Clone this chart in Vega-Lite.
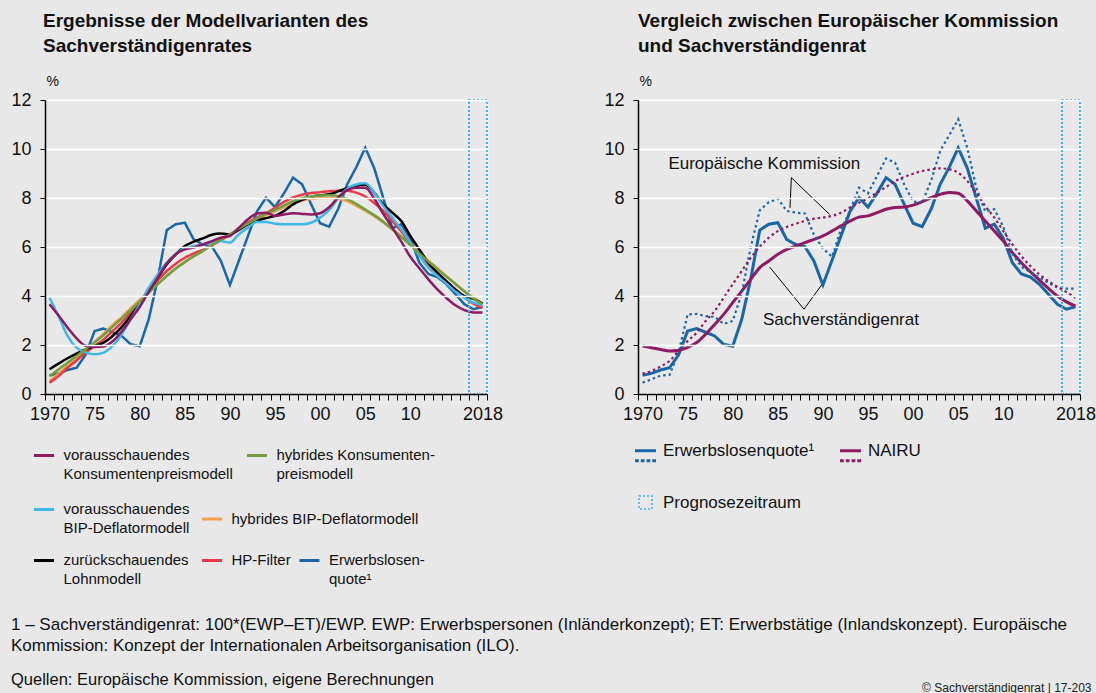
{
  "$schema": "https://vega.github.io/schema/vega-lite/v6.json",
  "background": "#e8e8e8",
  "padding": {"left": 10, "top": 12, "right": 2, "bottom": 1},
  "datasets": {
    "d": [
      {"year":1970,"vKP":3.66,"hKP":0.73,"vBIP":3.93,"hBIP":0.53,"Lohn":1.01,"HP":0.46,"Erw":0.76,"ErwEK":0.46,"NairuSVR":1.96,"NairuEK":0.83},
      {"year":1971,"vKP":3.2,"hKP":1.0,"vBIP":3.18,"hBIP":0.83,"Lohn":1.24,"HP":0.73,"Erw":0.84,"ErwEK":0.6,"NairuSVR":1.89,"NairuEK":0.94},
      {"year":1972,"vKP":2.71,"hKP":1.28,"vBIP":2.37,"hBIP":1.14,"Lohn":1.46,"HP":1.07,"Erw":0.98,"ErwEK":0.75,"NairuSVR":1.82,"NairuEK":1.12},
      {"year":1973,"vKP":2.27,"hKP":1.55,"vBIP":1.89,"hBIP":1.46,"Lohn":1.65,"HP":1.37,"Erw":1.07,"ErwEK":0.78,"NairuSVR":1.76,"NairuEK":1.35},
      {"year":1974,"vKP":1.97,"hKP":1.82,"vBIP":1.69,"hBIP":1.78,"Lohn":1.82,"HP":1.69,"Erw":1.6,"ErwEK":1.7,"NairuSVR":1.78,"NairuEK":1.76},
      {"year":1975,"vKP":1.92,"hKP":2.11,"vBIP":1.62,"hBIP":2.12,"Lohn":1.96,"HP":1.96,"Erw":2.57,"ErwEK":3.25,"NairuSVR":1.9,"NairuEK":2.16},
      {"year":1976,"vKP":1.94,"hKP":2.41,"vBIP":1.69,"hBIP":2.46,"Lohn":2.1,"HP":2.23,"Erw":2.67,"ErwEK":3.27,"NairuSVR":2.1,"NairuEK":2.5},
      {"year":1977,"vKP":2.15,"hKP":2.75,"vBIP":1.96,"hBIP":2.82,"Lohn":2.37,"HP":2.57,"Erw":2.52,"ErwEK":3.18,"NairuSVR":2.44,"NairuEK":2.98},
      {"year":1978,"vKP":2.55,"hKP":3.08,"vBIP":2.44,"hBIP":3.14,"Lohn":2.73,"HP":2.91,"Erw":2.37,"ErwEK":3.15,"NairuSVR":2.84,"NairuEK":3.39},
      {"year":1979,"vKP":3.05,"hKP":3.42,"vBIP":3.05,"hBIP":3.5,"Lohn":3.18,"HP":3.32,"Erw":2.03,"ErwEK":2.86,"NairuSVR":3.25,"NairuEK":3.93},
      {"year":1980,"vKP":3.55,"hKP":3.78,"vBIP":3.66,"hBIP":3.84,"Lohn":3.66,"HP":3.73,"Erw":1.95,"ErwEK":2.98,"NairuSVR":3.73,"NairuEK":4.48},
      {"year":1981,"vKP":4.17,"hKP":4.13,"vBIP":4.34,"hBIP":4.18,"Lohn":4.2,"HP":4.2,"Erw":3.05,"ErwEK":4.1,"NairuSVR":4.2,"NairuEK":5.02},
      {"year":1982,"vKP":4.75,"hKP":4.48,"vBIP":4.88,"hBIP":4.5,"Lohn":4.75,"HP":4.64,"Erw":4.7,"ErwEK":6.0,"NairuSVR":4.68,"NairuEK":5.56},
      {"year":1983,"vKP":5.33,"hKP":4.81,"vBIP":5.36,"hBIP":4.82,"Lohn":5.29,"HP":5.02,"Erw":6.69,"ErwEK":7.5,"NairuSVR":5.16,"NairuEK":6.01},
      {"year":1984,"vKP":5.7,"hKP":5.12,"vBIP":5.7,"hBIP":5.13,"Lohn":5.7,"HP":5.32,"Erw":6.93,"ErwEK":7.83,"NairuSVR":5.43,"NairuEK":6.38},
      {"year":1985,"vKP":5.9,"hKP":5.38,"vBIP":5.95,"hBIP":5.4,"Lohn":6.04,"HP":5.56,"Erw":6.99,"ErwEK":7.97,"NairuSVR":5.7,"NairuEK":6.65},
      {"year":1986,"vKP":5.98,"hKP":5.62,"vBIP":6.04,"hBIP":5.63,"Lohn":6.22,"HP":5.74,"Erw":6.3,"ErwEK":7.47,"NairuSVR":5.9,"NairuEK":6.82},
      {"year":1987,"vKP":6.1,"hKP":5.84,"vBIP":6.11,"hBIP":5.84,"Lohn":6.35,"HP":5.88,"Erw":6.1,"ErwEK":7.4,"NairuSVR":6.04,"NairuEK":6.95},
      {"year":1988,"vKP":6.24,"hKP":6.08,"vBIP":6.18,"hBIP":6.08,"Lohn":6.5,"HP":6.08,"Erw":6.02,"ErwEK":7.37,"NairuSVR":6.18,"NairuEK":7.06},
      {"year":1989,"vKP":6.38,"hKP":6.3,"vBIP":6.24,"hBIP":6.3,"Lohn":6.55,"HP":6.28,"Erw":5.43,"ErwEK":6.5,"NairuSVR":6.31,"NairuEK":7.16},
      {"year":1990,"vKP":6.45,"hKP":6.52,"vBIP":6.18,"hBIP":6.52,"Lohn":6.52,"HP":6.5,"Erw":4.45,"ErwEK":5.95,"NairuSVR":6.45,"NairuEK":7.2},
      {"year":1991,"vKP":6.79,"hKP":6.75,"vBIP":6.52,"hBIP":6.72,"Lohn":6.7,"HP":6.75,"Erw":5.45,"ErwEK":5.6,"NairuSVR":6.65,"NairuEK":7.27},
      {"year":1992,"vKP":7.13,"hKP":6.95,"vBIP":6.79,"hBIP":6.92,"Lohn":6.92,"HP":7.0,"Erw":6.45,"ErwEK":6.72,"NairuSVR":6.86,"NairuEK":7.4},
      {"year":1993,"vKP":7.37,"hKP":7.16,"vBIP":7.02,"hBIP":7.12,"Lohn":7.08,"HP":7.2,"Erw":7.45,"ErwEK":7.47,"NairuSVR":7.06,"NairuEK":7.61},
      {"year":1994,"vKP":7.4,"hKP":7.35,"vBIP":7.02,"hBIP":7.3,"Lohn":7.18,"HP":7.38,"Erw":8.01,"ErwEK":8.42,"NairuSVR":7.22,"NairuEK":7.81},
      {"year":1995,"vKP":7.27,"hKP":7.52,"vBIP":6.95,"hBIP":7.46,"Lohn":7.27,"HP":7.6,"Erw":7.63,"ErwEK":8.19,"NairuSVR":7.27,"NairuEK":7.99},
      {"year":1996,"vKP":7.33,"hKP":7.7,"vBIP":6.93,"hBIP":7.62,"Lohn":7.47,"HP":7.84,"Erw":8.2,"ErwEK":8.9,"NairuSVR":7.4,"NairuEK":8.22},
      {"year":1997,"vKP":7.38,"hKP":7.87,"vBIP":6.93,"hBIP":7.77,"Lohn":7.74,"HP":8.02,"Erw":8.83,"ErwEK":9.61,"NairuSVR":7.54,"NairuEK":8.45},
      {"year":1998,"vKP":7.35,"hKP":7.99,"vBIP":6.93,"hBIP":7.9,"Lohn":7.92,"HP":8.13,"Erw":8.56,"ErwEK":9.44,"NairuSVR":7.61,"NairuEK":8.69},
      {"year":1999,"vKP":7.33,"hKP":8.06,"vBIP":6.99,"hBIP":7.96,"Lohn":8.04,"HP":8.2,"Erw":7.75,"ErwEK":8.56,"NairuSVR":7.63,"NairuEK":8.86},
      {"year":2000,"vKP":7.38,"hKP":8.1,"vBIP":7.2,"hBIP":8.0,"Lohn":8.11,"HP":8.24,"Erw":6.97,"ErwEK":7.86,"NairuSVR":7.71,"NairuEK":8.99},
      {"year":2001,"vKP":7.62,"hKP":8.11,"vBIP":7.5,"hBIP":8.0,"Lohn":8.15,"HP":8.28,"Erw":6.83,"ErwEK":7.8,"NairuSVR":7.85,"NairuEK":9.1},
      {"year":2002,"vKP":8.02,"hKP":8.08,"vBIP":8.0,"hBIP":7.97,"Lohn":8.27,"HP":8.3,"Erw":7.55,"ErwEK":8.72,"NairuSVR":8.01,"NairuEK":9.17},
      {"year":2003,"vKP":8.32,"hKP":7.95,"vBIP":8.38,"hBIP":7.87,"Lohn":8.4,"HP":8.3,"Erw":8.56,"ErwEK":9.92,"NairuSVR":8.15,"NairuEK":9.21},
      {"year":2004,"vKP":8.42,"hKP":7.76,"vBIP":8.55,"hBIP":7.69,"Lohn":8.5,"HP":8.22,"Erw":9.25,"ErwEK":10.56,"NairuSVR":8.22,"NairuEK":9.17},
      {"year":2005,"vKP":8.42,"hKP":7.53,"vBIP":8.6,"hBIP":7.48,"Lohn":8.54,"HP":8.06,"Erw":10.05,"ErwEK":11.21,"NairuSVR":8.19,"NairuEK":9.03},
      {"year":2006,"vKP":7.98,"hKP":7.3,"vBIP":8.22,"hBIP":7.26,"Lohn":8.22,"HP":7.8,"Erw":9.22,"ErwEK":10.05,"NairuSVR":7.88,"NairuEK":8.69},
      {"year":2007,"vKP":7.35,"hKP":7.03,"vBIP":7.67,"hBIP":7.0,"Lohn":7.74,"HP":7.47,"Erw":8.0,"ErwEK":8.42,"NairuSVR":7.47,"NairuEK":8.22},
      {"year":2008,"vKP":6.79,"hKP":6.72,"vBIP":7.2,"hBIP":6.72,"Lohn":7.4,"HP":7.06,"Erw":6.77,"ErwEK":7.45,"NairuSVR":7.06,"NairuEK":7.67},
      {"year":2009,"vKP":6.22,"hKP":6.41,"vBIP":6.72,"hBIP":6.45,"Lohn":7.06,"HP":6.63,"Erw":6.93,"ErwEK":7.54,"NairuSVR":6.65,"NairuEK":7.2},
      {"year":2010,"vKP":5.6,"hKP":6.08,"vBIP":6.18,"hBIP":6.11,"Lohn":6.45,"HP":6.18,"Erw":6.35,"ErwEK":6.82,"NairuSVR":6.24,"NairuEK":6.65},
      {"year":2011,"vKP":5.13,"hKP":5.74,"vBIP":5.63,"hBIP":5.77,"Lohn":5.9,"HP":5.73,"Erw":5.36,"ErwEK":5.73,"NairuSVR":5.77,"NairuEK":6.11},
      {"year":2012,"vKP":4.68,"hKP":5.41,"vBIP":5.16,"hBIP":5.44,"Lohn":5.36,"HP":5.29,"Erw":4.9,"ErwEK":5.19,"NairuSVR":5.36,"NairuEK":5.63},
      {"year":2013,"vKP":4.27,"hKP":5.1,"vBIP":4.82,"hBIP":5.13,"Lohn":4.95,"HP":4.88,"Erw":4.77,"ErwEK":4.98,"NairuSVR":4.99,"NairuEK":5.22},
      {"year":2014,"vKP":3.92,"hKP":4.79,"vBIP":4.5,"hBIP":4.82,"Lohn":4.61,"HP":4.54,"Erw":4.48,"ErwEK":4.76,"NairuSVR":4.65,"NairuEK":4.88},
      {"year":2015,"vKP":3.62,"hKP":4.49,"vBIP":4.18,"hBIP":4.5,"Lohn":4.27,"HP":4.2,"Erw":4.07,"ErwEK":4.54,"NairuSVR":4.31,"NairuEK":4.61},
      {"year":2016,"vKP":3.42,"hKP":4.18,"vBIP":3.93,"hBIP":4.2,"Lohn":4.0,"HP":3.93,"Erw":3.66,"ErwEK":4.34,"NairuSVR":4.0,"NairuEK":4.37},
      {"year":2017,"vKP":3.33,"hKP":3.9,"vBIP":3.73,"hBIP":3.93,"Lohn":3.88,"HP":3.69,"Erw":3.46,"ErwEK":4.3,"NairuSVR":3.76,"NairuEK":4.16},
      {"year":2018,"vKP":3.33,"hKP":3.67,"vBIP":3.63,"hBIP":3.7,"Lohn":3.69,"HP":3.52,"Erw":3.56,"ErwEK":4.3,"NairuSVR":3.59,"NairuEK":3.93}
    ],
    "fc": [{"start": 2016.5, "end": 2018.5}],
    "annoLines": [
      {"x1": 1986.5, "y1": 8.83, "x2": 1986.35, "y2": 7.6},
      {"x1": 1986.5, "y1": 8.83, "x2": 1990.74, "y2": 7.33},
      {"x1": 1987.9, "y1": 3.46, "x2": 1984.1, "y2": 5.18},
      {"x1": 1987.9, "y1": 3.46, "x2": 1989.85, "y2": 4.45}
    ],
    "annoText": [
      {"year": 1983.5, "value": 9.37, "label": "Europäische Kommission"},
      {"year": 1992.0, "value": 3.02, "label": "Sachverständigenrat"}
    ]
  },
  "title": {
    "text": "© Sachverständigenrat | 17-203",
    "orient": "bottom", "anchor": "end", "frame": "bounds",
    "fontSize": 12, "fontWeight": "normal", "color": "#222", "offset": -6, "dx": -4
  },
  "vconcat": [
    {
      "title": {
        "text": ["1 – Sachverständigenrat: 100*(EWP–ET)/EWP. EWP: Erwerbspersonen (Inländerkonzept); ET: Erwerbstätige (Inlandskonzept). Europäische", "Kommission: Konzept der Internationalen Arbeitsorganisation (ILO)."],
        "subtitle": "Quellen: Europäische Kommission, eigene Berechnungen",
        "orient": "bottom", "anchor": "start", "frame": "bounds",
        "fontSize": 17, "fontWeight": "normal", "lineHeight": 21, "color": "#111",
        "subtitleFontSize": 16.5, "subtitleColor": "#111", "subtitlePadding": 17,
        "offset": 30
      },
      "spacing": 100,
      "resolve": {"scale": {"color": "independent", "stroke": "independent", "strokeDash": "independent"}},
      "hconcat": [
        {
          "width": 442, "height": 294,
          "title": {"text": ["Ergebnisse der Modellvarianten des", "Sachverständigenrates"], "anchor": "start", "frame": "group", "fontSize": 19, "fontWeight": "bold", "lineHeight": 25, "offset": 18, "dx": -2},
          "resolve": {"axis": {"x": "independent", "y": "independent"}},
          "layer": [
            {
              "data": {"name": "d"},
              "transform": [{"fold": ["Erw"], "as": ["series", "value"]}],
              "mark": {"type": "line", "strokeWidth": 2.5, "color": "#1a67a7"},
              "encoding": {
                "x": {"field": "year", "type": "quantitative", "scale": {"domain": [1969.5, 2018.5], "nice": false, "zero": false},
                  "axis": {"values": [1969.5,1970.5,1971.5,1972.5,1973.5,1974.5,1975.5,1976.5,1977.5,1978.5,1979.5,1980.5,1981.5,1982.5,1983.5,1984.5,1985.5,1986.5,1987.5,1988.5,1989.5,1990.5,1991.5,1992.5,1993.5,1994.5,1995.5,1996.5,1997.5,1998.5,1999.5,2000.5,2001.5,2002.5,2003.5,2004.5,2005.5,2006.5,2007.5,2008.5,2009.5,2010.5,2011.5,2012.5,2013.5,2014.5,2015.5,2016.5,2017.5,2018.5], "labels": false, "tickSize": 6, "grid": false, "title": null, "zindex": 1}},
                "y": {"field": "value", "type": "quantitative", "scale": {"domain": [0, 12], "nice": false, "zero": true},
                  "axis": {"values": [0,2,4,6,8,10,12], "grid": true, "tickSize": 5, "labelPadding": 9, "title": "%", "titleAngle": 0, "titleAlign": "left", "titleBaseline": "alphabetic", "titleX": 1, "titleY": -15, "titleFontSize": 14, "titleFontWeight": "normal", "zindex": 1}},
                "strokeDash": {"field": "series", "type": "nominal", "scale": {"domain": ["Erw"], "range": [[1, 0]]},
                  "legend": {"orient": "none", "legendX": 253, "legendY": 449, "title": null, "symbolType": "stroke", "symbolSize": 400, "symbolStrokeWidth": 3, "symbolStrokeColor": "#1a67a7", "labelFontSize": 15, "labelLimit": 400, "labelOffset": 8, "padding": 0, "labelBaseline": "line-top",
                    "labelExpr": "['Erwerbslosen-', 'quote¹']",
                    "encode": {"labels": {"update": {"dy": {"value": -9.5}, "lineHeight": {"value": 19}}}, "symbols": {"update": {"stroke": {"value": "#1a67a7"}}}}}}
              }
            },
            {
              "data": {"name": "d"},
              "transform": [{"fold": ["hBIP", "HP", "Lohn", "vBIP"], "as": ["series", "value"]}],
              "mark": {"type": "line", "strokeWidth": 2.5, "interpolate": "monotone"},
              "encoding": {
                "x": {"field": "year", "type": "quantitative", "axis": null},
                "y": {"field": "value", "type": "quantitative", "axis": null},
                "stroke": {"field": "series", "type": "nominal",
                  "scale": {"domain": ["vBIP", "hBIP", "Lohn", "HP"], "range": ["#3fb8e8", "#f59e48", "#000000", "#e8394a"]},
                  "legend": {"orient": "none", "direction": "horizontal", "legendX": -12.5, "legendY": 398, "columns": 2, "title": null, "symbolType": "stroke", "symbolSize": 400, "symbolStrokeWidth": 3, "labelFontSize": 15, "labelLimit": 400, "labelOffset": 8, "columnPadding": 6, "rowPadding": 13, "padding": 0, "labelBaseline": "line-top",
                    "labelExpr": "{'vBIP': ['vorausschauendes', 'BIP-Deflatormodell'], 'hBIP': ['hybrides BIP-Deflatormodell'], 'Lohn': ['zurückschauendes', 'Lohnmodell'], 'HP': ['HP-Filter']}[datum.label]",
                    "encode": {"labels": {"update": {"dy": {"value": -9.5}, "lineHeight": {"value": 19}}}}}}
              }
            },
            {
              "data": {"name": "d"},
              "transform": [{"fold": ["hKP", "vKP"], "as": ["series", "value"]}],
              "mark": {"type": "line", "strokeWidth": 2.5, "interpolate": "monotone"},
              "encoding": {
                "x": {"field": "year", "type": "quantitative", "axis": null},
                "y": {"field": "value", "type": "quantitative", "axis": null},
                "color": {"field": "series", "type": "nominal",
                  "scale": {"domain": ["vKP", "hKP"], "range": ["#8e1a63", "#6fa03f"]},
                  "legend": {"orient": "none", "direction": "horizontal", "legendX": -12.5, "legendY": 344, "columns": 2, "title": null, "symbolType": "stroke", "symbolSize": 400, "symbolStrokeWidth": 3, "labelFontSize": 15, "labelLimit": 400, "labelOffset": 8, "columnPadding": 7, "rowPadding": 13, "padding": 0, "labelBaseline": "line-top",
                    "labelExpr": "{'vKP': ['vorausschauendes', 'Konsumentenpreismodell'], 'hKP': ['hybrides Konsumenten-', 'preismodell']}[datum.label]",
                    "encode": {"labels": {"update": {"dy": {"value": -9.5}, "lineHeight": {"value": 19}}}}}}
              }
            },
            {
              "data": {"name": "fc"},
              "mark": {"type": "rect", "filled": false, "stroke": "#3db4e5", "strokeWidth": 2, "strokeDash": [2, 2]},
              "encoding": {
                "x": {"field": "start", "type": "quantitative",
                  "axis": {"orient": "bottom", "values": [1970,1975,1980,1985,1990,1995,2000,2005,2010,2018], "ticks": false, "domain": false, "grid": false, "title": null, "labelPadding": 11, "format": "d",
                    "labelExpr": "datum.value == 1970 || datum.value == 2018 ? '' + datum.value : substring('' + datum.value, 2, 4)"}},
                "x2": {"field": "end"},
                "y": {"datum": 12, "type": "quantitative", "axis": {"orient": "right", "domainColor": "#ffffff", "ticks": false, "labels": false, "grid": false, "title": null}},
                "y2": {"datum": 0}
              }
            }
          ]
        },
        {
          "width": 442, "height": 294,
          "title": {"text": ["Vergleich zwischen Europäischer Kommission", "und Sachverständigenrat"], "anchor": "start", "frame": "group", "fontSize": 19, "fontWeight": "bold", "lineHeight": 25, "offset": 18, "dx": 0},
          "resolve": {"axis": {"x": "independent", "y": "independent"}},
          "layer": [
            {
              "data": {"name": "d"},
              "mark": {"type": "line", "strokeWidth": 3},
              "encoding": {
                "x": {"field": "year", "type": "quantitative", "scale": {"domain": [1969.5, 2018.5], "nice": false, "zero": false},
                  "axis": {"values": [1969.5,1970.5,1971.5,1972.5,1973.5,1974.5,1975.5,1976.5,1977.5,1978.5,1979.5,1980.5,1981.5,1982.5,1983.5,1984.5,1985.5,1986.5,1987.5,1988.5,1989.5,1990.5,1991.5,1992.5,1993.5,1994.5,1995.5,1996.5,1997.5,1998.5,1999.5,2000.5,2001.5,2002.5,2003.5,2004.5,2005.5,2006.5,2007.5,2008.5,2009.5,2010.5,2011.5,2012.5,2013.5,2014.5,2015.5,2016.5,2017.5,2018.5], "labels": false, "tickSize": 6, "grid": false, "title": null, "zindex": 1}},
                "y": {"field": "Erw", "type": "quantitative", "scale": {"domain": [0, 12], "nice": false, "zero": true},
                  "axis": {"values": [0,2,4,6,8,10,12], "grid": true, "tickSize": 5, "labelPadding": 9, "title": "%", "titleAngle": 0, "titleAlign": "left", "titleBaseline": "alphabetic", "titleX": 1, "titleY": -15, "titleFontSize": 14, "titleFontWeight": "normal", "zindex": 1}},
                "color": {"datum": "Erwerbslosenquote¹",
                  "scale": {"domain": ["Erwerbslosenquote¹", "NAIRU", "Prognosezeitraum"], "range": ["#1a67a7", "#8e1a63", "#3db4e5"]},
                  "legend": {"orient": "none", "direction": "horizontal", "legendX": -1, "legendY": 342, "columns": 2, "title": null, "symbolSize": 441, "labelFontSize": 17, "labelLimit": 400, "labelOffset": 9, "columnPadding": 19, "rowPadding": 25, "padding": 0,
                    "encode": {"symbols": {"update": {
                      "shape": {"signal": "datum.value == 'Prognosezeitraum' ? 'M-0.62,-0.62H0.62V0.62H-0.62Z' : 'M-1,0H1M-1,0.95H-0.64M-0.45,0.95H-0.09M0.1,0.95H0.46M0.64,0.95H1'"},
                      "strokeWidth": {"signal": "datum.value == 'Prognosezeitraum' ? 1.5 : 3"},
                      "strokeDash": {"signal": "datum.value == 'Prognosezeitraum' ? [2, 2] : [1, 0]"},
                      "fill": {"value": "transparent"}
                    }}}}}
              }
            },
            {
              "data": {"name": "d"},
              "mark": {"type": "line", "strokeWidth": 3, "interpolate": "monotone"},
              "encoding": {
                "x": {"field": "year", "type": "quantitative", "axis": null},
                "y": {"field": "NairuSVR", "type": "quantitative", "axis": null},
                "color": {"datum": "NAIRU"}
              }
            },
            {
              "data": {"name": "d"},
              "mark": {"type": "line", "strokeWidth": 2.2, "strokeDash": [2.5, 3]},
              "encoding": {
                "x": {"field": "year", "type": "quantitative", "axis": null},
                "y": {"field": "ErwEK", "type": "quantitative", "axis": null},
                "color": {"datum": "Erwerbslosenquote¹"}
              }
            },
            {
              "data": {"name": "d"},
              "mark": {"type": "line", "strokeWidth": 2.2, "strokeDash": [2.5, 3], "interpolate": "monotone"},
              "encoding": {
                "x": {"field": "year", "type": "quantitative", "axis": null},
                "y": {"field": "NairuEK", "type": "quantitative", "axis": null},
                "color": {"datum": "NAIRU"}
              }
            },
            {
              "data": {"name": "annoLines"},
              "mark": {"type": "rule", "color": "#000", "strokeWidth": 1},
              "encoding": {
                "x": {"field": "x1", "type": "quantitative", "axis": null},
                "y": {"field": "y1", "type": "quantitative", "axis": null},
                "x2": {"field": "x2"},
                "y2": {"field": "y2"}
              }
            },
            {
              "data": {"name": "annoText"},
              "mark": {"type": "text", "fontSize": 17, "align": "center", "baseline": "middle", "color": "#111"},
              "encoding": {
                "x": {"field": "year", "type": "quantitative", "axis": null},
                "y": {"field": "value", "type": "quantitative", "axis": null},
                "text": {"field": "label"}
              }
            },
            {
              "data": {"name": "fc"},
              "mark": {"type": "rect", "filled": false, "strokeWidth": 2, "strokeDash": [2, 2]},
              "encoding": {
                "x": {"field": "start", "type": "quantitative",
                  "axis": {"orient": "bottom", "values": [1970,1975,1980,1985,1990,1995,2000,2005,2010,2018], "ticks": false, "domain": false, "grid": false, "title": null, "labelPadding": 11, "format": "d",
                    "labelExpr": "datum.value == 1970 || datum.value == 2018 ? '' + datum.value : substring('' + datum.value, 2, 4)"}},
                "x2": {"field": "end"},
                "y": {"datum": 12, "type": "quantitative", "axis": {"orient": "right", "domainColor": "#ffffff", "ticks": false, "labels": false, "grid": false, "title": null}},
                "y2": {"datum": 0},
                "color": {"datum": "Prognosezeitraum"}
              }
            }
          ]
        }
      ]
    }
  ],
  "config": {
    "font": "Liberation Sans",
    "view": {"stroke": null},
    "axis": {"labelFont": "Liberation Sans", "labelFontSize": 18, "labelColor": "#111", "domainColor": "#000", "domainWidth": 1.5, "tickColor": "#000", "tickWidth": 1, "gridColor": "#ffffff", "gridWidth": 1.6, "titleColor": "#111", "labelOverlap": false, "labelFlush": false},
    "legend": {"labelFont": "Liberation Sans", "labelColor": "#111"},
    "title": {"color": "#111", "font": "Liberation Sans"}
  }
}
